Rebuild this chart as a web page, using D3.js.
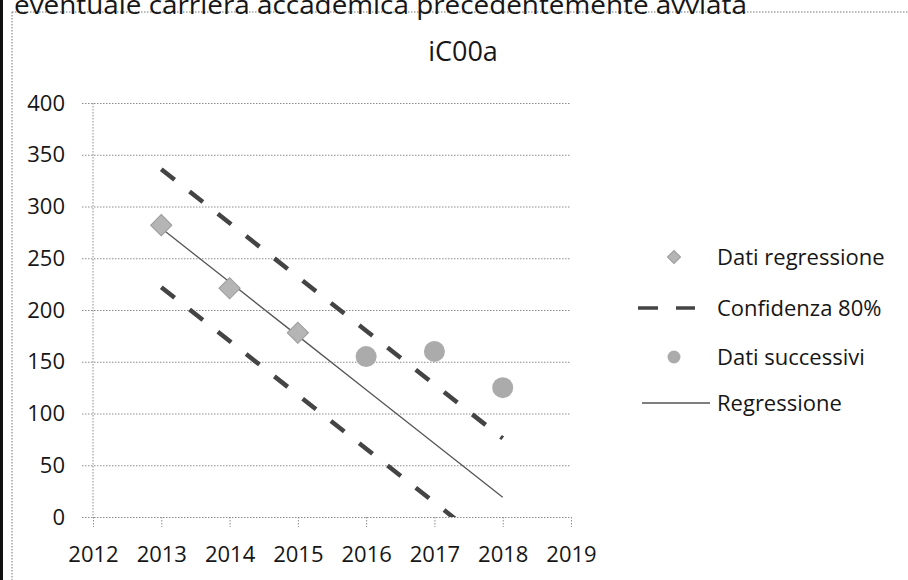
<!DOCTYPE html>
<html>
<head>
<meta charset="utf-8">
<script src="https://cdn.jsdelivr.net/npm/d3@7"></script>
<style>
  html, body { margin: 0; padding: 0; background: #fff; }
  svg { display: block; }
  text { font-family: "Open Sans", "DejaVu Sans", sans-serif; fill: #161616; }
</style>
</head>
<body>
<svg id="chart" width="908" height="580"></svg>
<script>
// ---- data ----
const headerText = "eventuale carriera accademica precedentemente avviata";
const chartTitle = "iC00a";
const regYears = [2013, 2014, 2015];
const regValues = [282, 221, 178];
const nextYears = [2016, 2017, 2018];
const nextValues = [155, 160, 125];
const lineYears = [2013, 2014, 2015, 2016, 2017, 2018];
const regressionValues = [279, 227, 175, 123, 71, 19];
const upperValues = [336, 284, 232, 180, 128, 76];
const lowerValues = [222, 170, 118, 66, 14, -38];
const xTicks = [2012, 2013, 2014, 2015, 2016, 2017, 2018, 2019];
const yTicks = [0, 50, 100, 150, 200, 250, 300, 350, 400];
const legendLabels = ["Dati regressione", "Confidenza 80%", "Dati successivi", "Regressione"];

// ---- layout ----
const svg = d3.select("#chart");
const x = d3.scaleLinear().domain([2012, 2019]).range([93, 571]);
const y = d3.scaleLinear().domain([0, 400]).range([517, 103]);

const gridColor = "#8c8c8c";
const dashColor = "#444";
const markerColor = "#ababab";

// outer frame
svg.append("rect").attr("x", 0).attr("y", 0).attr("width", 3).attr("height", 580).attr("fill", "#111");
svg.append("line").attr("x1", 12).attr("x2", 908).attr("y1", 12).attr("y2", 12)
  .attr("stroke", "#777").attr("stroke-width", 1).attr("stroke-dasharray", "1.5,1.5");
svg.append("line").attr("x1", 12).attr("x2", 12).attr("y1", 12).attr("y2", 580)
  .attr("stroke", "#777").attr("stroke-width", 1).attr("stroke-dasharray", "1.5,1.5");

// header text (partly cut at top, as in the scanned reference)
svg.append("text").attr("x", 14).attr("y", 14)
  .attr("font-size", 25).attr("textLength", 733).attr("lengthAdjust", "spacingAndGlyphs")
  .text(headerText);

// title
svg.append("text").attr("x", 463).attr("y", 61).attr("text-anchor", "middle")
  .attr("font-size", 27).attr("font-weight", 500).text(chartTitle);

// y axis with gridlines
const yAxis = d3.axisLeft(y).tickValues(yTicks).tickSize(-(571 - 82)).tickPadding(17);
const gy = svg.append("g").attr("transform", "translate(82,0)").call(yAxis);
gy.select(".domain").remove();
gy.selectAll(".tick line").attr("stroke", gridColor).attr("stroke-width", 1).attr("stroke-dasharray", "1.5,1.5");
gy.selectAll(".tick text").attr("font-size", 22).attr("font-family", "Open Sans").attr("fill", "#161616");

// vertical axis line
svg.append("line").attr("x1", x(2012)).attr("x2", x(2012)).attr("y1", y(400)).attr("y2", y(0))
  .attr("stroke", gridColor).attr("stroke-width", 1).attr("stroke-dasharray", "1.5,1.5");

// x axis
const xAxis = d3.axisBottom(x).tickValues(xTicks).tickFormat(d3.format("d")).tickSize(10).tickPadding(19);
const gx = svg.append("g").attr("transform", `translate(0,${y(0)})`).call(xAxis);
gx.select(".domain").remove();
gx.selectAll(".tick line").attr("stroke", gridColor).attr("stroke-width", 1).attr("stroke-dasharray", "1.5,1.5");
gx.selectAll(".tick text").attr("font-size", 22).attr("font-family", "Open Sans").attr("fill", "#161616");

// clip
svg.append("clipPath").attr("id", "plot").append("rect")
  .attr("x", x(2012)).attr("y", y(400)).attr("width", x(2019) - x(2012)).attr("height", y(0) - y(400));
const plot = svg.append("g").attr("clip-path", "url(#plot)");

const line = d3.line().x(d => x(d[0])).y(d => y(d[1]));

// confidence lines
[upperValues, lowerValues].forEach(vals => {
  plot.append("path").datum(lineYears.map((yr, i) => [yr, vals[i]]))
    .attr("d", line).attr("fill", "none")
    .attr("stroke", dashColor).attr("stroke-width", 4.5)
    .attr("stroke-dasharray", "17,19");
});

// regression line
plot.append("path").datum(lineYears.map((yr, i) => [yr, regressionValues[i]]))
  .attr("d", line).attr("fill", "none")
  .attr("stroke", "#555").attr("stroke-width", 1.3);

// regression data (diamonds)
const diamond = d3.symbol().type(d3.symbolSquare).size(225);
plot.selectAll(".diam").data(regYears.map((yr, i) => [yr, regValues[i]])).join("path")
  .attr("class", "diam")
  .attr("d", diamond)
  .attr("transform", d => `translate(${x(d[0])},${y(d[1])}) rotate(45)`)
  .attr("fill", "#b5b5b5").attr("stroke", "#9a9a9a").attr("stroke-width", 1);

// subsequent data (circles)
plot.selectAll(".circ").data(nextYears.map((yr, i) => [yr, nextValues[i]])).join("circle")
  .attr("class", "circ")
  .attr("cx", d => x(d[0])).attr("cy", d => y(d[1])).attr("r", 10.5)
  .attr("fill", markerColor);

// legend
const legRows = [257, 308, 357, 403];
const leg = svg.append("g");
legendLabels.forEach((lab, i) => {
  leg.append("text").attr("x", 717).attr("y", legRows[i]).attr("dy", "0.35em")
    .attr("font-size", 22).text(lab);
});
leg.append("path").attr("d", d3.symbol().type(d3.symbolSquare).size(85))
  .attr("transform", `translate(674,${legRows[0]}) rotate(45)`)
  .attr("fill", "#b5b5b5").attr("stroke", "#9a9a9a").attr("stroke-width", 1);
leg.append("line").attr("x1", 638).attr("x2", 695).attr("y1", legRows[1]).attr("y2", legRows[1])
  .attr("stroke", dashColor).attr("stroke-width", 3.5).attr("stroke-dasharray", "20,18");
leg.append("circle").attr("cx", 674).attr("cy", legRows[2]).attr("r", 6.5).attr("fill", markerColor);
leg.append("line").attr("x1", 642).attr("x2", 710).attr("y1", legRows[3]).attr("y2", legRows[3])
  .attr("stroke", "#555").attr("stroke-width", 1.3);
</script>
</body>
</html>
